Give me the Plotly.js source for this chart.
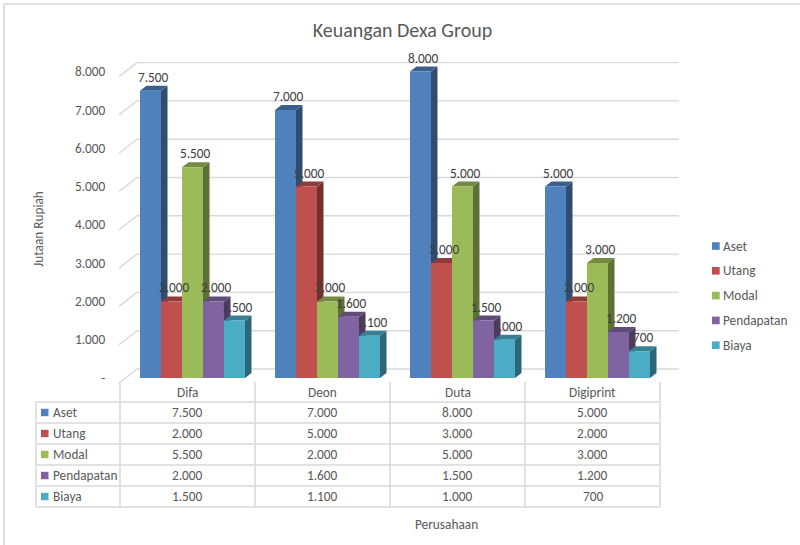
<!DOCTYPE html>
<html>
<head>
<meta charset="utf-8">
<script src="https://cdn.plot.ly/plotly-3.0.1.min.js"></script>
<style>html,body{margin:0;padding:0;background:#fff}#chart{width:800px;height:545px}</style>
</head>
<body>
<div id="chart"></div>
<script>
// ---- data ----
const categories = ['Difa', 'Deon', 'Duta', 'Digiprint'];
const seriesNames = ['Aset', 'Utang', 'Modal', 'Pendapatan', 'Biaya'];
const aset = [7500, 7000, 8000, 5000];
const utang = [2000, 5000, 3000, 2000];
const modal = [5500, 2000, 5000, 3000];
const pendapatan = [2000, 1600, 1500, 1200];
const biaya = [1500, 1100, 1000, 700];
const yTickVals = [0, 1000, 2000, 3000, 4000, 5000, 6000, 7000, 8000];
const yTickText = ['-', '1.000', '2.000', '3.000', '4.000', '5.000', '6.000', '7.000', '8.000'];
const seriesValues = [aset, utang, modal, pendapatan, biaya];

// ---- style / geometry ----
const colors = ['#4F81BD', '#C0504D', '#9BBB59', '#8064A2', '#4BACC6'];
const FONT = 'Carlito, Lato, "Open Sans", sans-serif';
const FS = 13.3;
const TXT = '#595959';
const GRID = '#D9D9D9';
const W = 800, H = 545;
const px = x => x / W;
const py = y => (H - y) / H;

const colPx = 135;            // px per category (front plane)
const pxPerK = 38.3;          // px per 1000 on value axis
const baseY = 378;            // px of value 0 on the bar front plane
const xRange = [-0.52, 3.52];
const yRange = [-300, 9000];
const barW = 21 / colPx;
const groupStart = -47.5 / colPx;
const depthX = 6.5 / colPx;
const depthY = 5 * 1000 / pxPerK;

function shade(hex, f) {
  const n = parseInt(hex.slice(1), 16);
  const r = Math.round(((n >> 16) & 255) * f);
  const g = Math.round(((n >> 8) & 255) * f);
  const b = Math.round((n & 255) * f);
  return 'rgb(' + r + ',' + g + ',' + b + ')';
}
function fmt(v) { return String(v).replace(/\B(?=(\d{3})+(?!\d))/g, '.'); }

// ---- traces (front faces) ----
const traces = seriesNames.map((name, s) => ({
  type: 'bar',
  name: name,
  x: categories,
  y: seriesValues[s],
  width: barW,
  offset: groupStart + s * barW,
  marker: { color: colors[s], line: { width: 0 } },
  showlegend: false,
  hoverinfo: 'name+y'
}));

const shapes = [];
const annotations = [];

// chart border
shapes.push({ type: 'line', xref: 'paper', yref: 'paper', x0: px(4), x1: 1.01, y0: py(4), y1: py(4), line: { color: GRID, width: 1.5 } });
shapes.push({ type: 'line', xref: 'paper', yref: 'paper', x0: px(4), x1: px(4), y0: py(4), y1: -0.01, line: { color: GRID, width: 1.5 } });

// back-wall gridlines and side-wall diagonals
yTickVals.forEach(v => {
  shapes.push({ type: 'line', layer: 'below', xref: 'paper', x0: px(137), x1: px(679), yref: 'y', ysizemode: 'pixel', yanchor: v, y0: 9, y1: 9, line: { color: GRID, width: 1.4 } });
  shapes.push({ type: 'line', layer: 'below', xref: 'paper', x0: px(119), x1: px(137), yref: 'y', ysizemode: 'pixel', yanchor: v, y0: -5, y1: 9, line: { color: GRID, width: 1.4 } });
});

// 3D side and top faces + data labels
seriesNames.forEach((name, s) => {
  seriesValues[s].forEach((v, c) => {
    const x0 = c + groupStart + s * barW;
    const x1 = x0 + barW;
    shapes.push({ type: 'path', layer: 'between', xref: 'x', yref: 'y', line: { width: 0 }, fillcolor: shade(colors[s], 0.6),
      path: `M${x1},0 L${x1 + depthX},${depthY} L${x1 + depthX},${v + depthY} L${x1},${v} Z` });
    shapes.push({ type: 'path', layer: 'between', xref: 'x', yref: 'y', line: { width: 0 }, fillcolor: shade(colors[s], 0.74),
      path: `M${x0},${v} L${x1},${v} L${x1 + depthX},${v + depthY} L${x0 + depthX},${v + depthY} Z` });
    annotations.push({ xref: 'x', yref: 'y', x: x0 + barW / 2, y: v, xshift: 3, yshift: 13.5, yanchor: 'middle', xanchor: 'center',
      text: fmt(v), showarrow: false, font: { family: FONT, size: FS, color: '#404040' } });
  });
});

// data table
const headY = 392, rowTop = 402, rowH = 21, tabLeft = 36, tabRight = 660;
for (let i = 0; i <= seriesNames.length; i++) {
  const y = rowTop + i * rowH;
  shapes.push({ type: 'line', xref: 'paper', yref: 'paper', x0: px(tabLeft), x1: px(tabRight), y0: py(y), y1: py(y), line: { color: GRID, width: 1.5 } });
}
for (let c = 0; c <= categories.length; c++) {
  shapes.push({ type: 'line', xref: 'x', yref: 'paper', x0: c - 0.5, x1: c - 0.5, y0: py(382), y1: py(rowTop + seriesNames.length * rowH), line: { color: GRID, width: 1.5 } });
}
shapes.push({ type: 'line', xref: 'paper', yref: 'paper', x0: px(tabLeft), x1: px(tabLeft), y0: py(rowTop), y1: py(rowTop + seriesNames.length * rowH), line: { color: GRID, width: 1.5 } });
categories.forEach((cat, c) => {
  annotations.push({ xref: 'x', yref: 'paper', x: cat, y: py(headY), text: cat, showarrow: false, yanchor: 'middle', font: { family: FONT, size: FS, color: TXT } });
});
seriesNames.forEach((name, s) => {
  const yc = rowTop + s * rowH + rowH / 2;
  shapes.push({ type: 'rect', xref: 'paper', yref: 'paper', x0: px(41), x1: px(48.5), y0: py(yc - 3.7), y1: py(yc + 3.7), fillcolor: colors[s], line: { width: 0 } });
  annotations.push({ xref: 'paper', yref: 'paper', x: px(51), y: py(yc), xanchor: 'left', yanchor: 'middle', text: name, showarrow: false, font: { family: FONT, size: FS, color: TXT } });
  seriesValues[s].forEach((v, c) => {
    annotations.push({ xref: 'x', yref: 'paper', x: categories[c], y: py(yc), yanchor: 'middle', text: fmt(v), showarrow: false, font: { family: FONT, size: FS, color: TXT } });
  });
});

// legend (right)
seriesNames.forEach((name, s) => {
  const yc = 246 + s * 24.8;
  shapes.push({ type: 'rect', xref: 'paper', yref: 'paper', x0: px(712), x1: px(719.7), y0: py(yc - 3.8), y1: py(yc + 3.8), fillcolor: colors[s], line: { width: 0 } });
  annotations.push({ xref: 'paper', yref: 'paper', x: px(721), y: py(yc), xanchor: 'left', yanchor: 'middle', text: name, showarrow: false, font: { family: FONT, size: FS, color: TXT } });
});

// axis titles
annotations.push({ xref: 'paper', yref: 'paper', x: px(39), y: py(229), text: 'Jutaan Rupiah', textangle: -90, showarrow: false, xanchor: 'center', yanchor: 'middle', font: { family: FONT, size: FS, color: TXT } });
annotations.push({ xref: 'paper', yref: 'paper', x: px(446), y: py(524), text: 'Perusahaan', showarrow: false, xanchor: 'center', yanchor: 'middle', font: { family: FONT, size: FS, color: TXT } });

const layout = {
  width: W, height: H,
  margin: { l: 0, r: 0, t: 0, b: 0 },
  paper_bgcolor: '#ffffff', plot_bgcolor: 'rgba(0,0,0,0)',
  font: { family: FONT, color: TXT },
  title: { text: 'Keuangan Dexa Group', x: px(402.5), xanchor: 'center', xref: 'paper', y: py(30), yanchor: 'middle', yref: 'paper', font: { family: FONT, size: 20, color: TXT } },
  barmode: 'overlay',
  showlegend: false,
  xaxis: { type: 'category', range: xRange, domain: [px(120 + xRange[0] * colPx + 0.5 * colPx), px(120 + (xRange[1] + 0.5) * colPx)],
    showgrid: false, zeroline: false, showline: false, showticklabels: false, ticks: '', fixedrange: true },
  yaxis: { range: yRange, domain: [py(baseY - yRange[0] / 1000 * pxPerK), py(baseY - yRange[1] / 1000 * pxPerK)],
    tickmode: 'array', tickvals: yTickVals, ticktext: yTickText, ticks: '', showgrid: false, zeroline: false, showline: false,
    ticklabelstandoff: 11, ticklabelshift: -4.5, tickfont: { family: FONT, size: FS, color: TXT }, fixedrange: true },
  shapes: shapes,
  annotations: annotations
};

Plotly.newPlot('chart', traces, layout, { displayModeBar: false, staticPlot: true });
</script>
</body>
</html>
